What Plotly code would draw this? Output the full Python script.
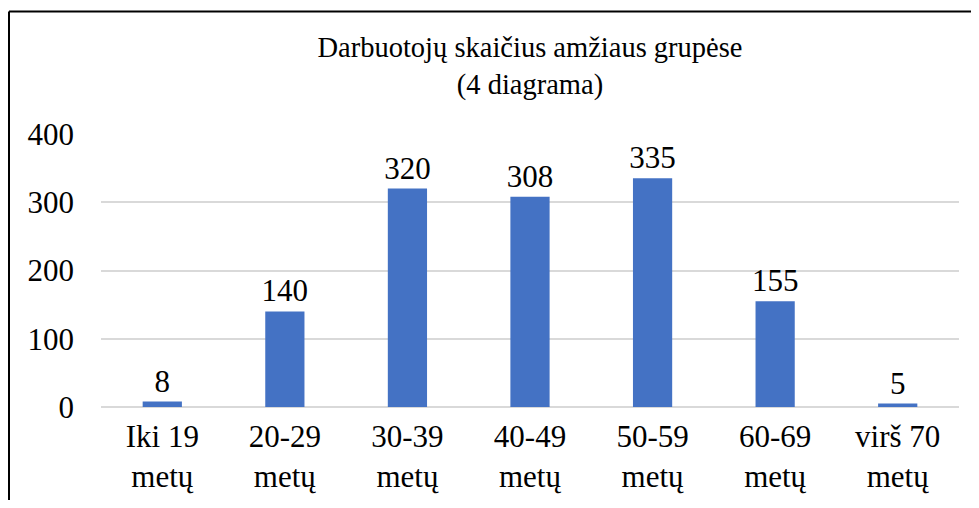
import plotly.graph_objects as go

categories = ["Iki 19<br>metų", "20-29<br>metų", "30-39<br>metų", "40-49<br>metų",
              "50-59<br>metų", "60-69<br>metų", "virš 70<br>metų"]
values = [8, 140, 320, 308, 335, 155, 5]
y_ticks = [0, 100, 200, 300, 400]

FONT = "Liberation Serif"
OFF = 8  # page body margin

W, H = 963, 492
L, T = 101 - OFF, 134 - OFF
R = W - (959 - OFF)
B = H - (407 - OFF)
pw, ph = W - L - R, H - T - B
bx = (9 - OFF - L) / pw
by = (H - B - (11.5 - OFF)) / ph

fig = go.Figure(go.Bar(
    x=categories, y=values,
    marker=dict(color="#4472C4", line=dict(width=0)),
    text=[str(v) for v in values], textposition="outside",
    constraintext="none",
    textfont=dict(family=FONT, size=31, color="#000000"),
    cliponaxis=False,
))

fig.update_layout(
    width=W, height=H,
    margin=dict(l=L, r=R, t=T, b=B, autoexpand=False),
    paper_bgcolor="white", plot_bgcolor="white",
    bargap=0.68,
    showlegend=False,
    font=dict(family=FONT, color="#000000"),
    title=dict(text="Darbuotojų skaičius amžiaus grupėse<br>(4 diagrama)",
               x=0.5, xref="paper", xanchor="center",
               y=1 - (57 - OFF) / H, yanchor="top",
               font=dict(family=FONT, size=28.5, color="#000000")),
    xaxis=dict(showgrid=False, showline=False, ticks="", zeroline=False,
               automargin=False,
               tickfont=dict(family=FONT, size=31, color="#000000"),
               ticklabelstandoff=8),
    yaxis=dict(range=[0, 400], tickvals=y_ticks, showgrid=True, gridcolor="#D9D9D9",
               gridwidth=2, zeroline=True, zerolinecolor="#D9D9D9", zerolinewidth=2,
               showline=False, ticks="", automargin=False,
               tickfont=dict(family=FONT, size=31, color="#000000"),
               ticklabelstandoff=26),
    shapes=[
        dict(type="line", xref="paper", yref="paper", x0=bx, x1=1.2, y0=by, y1=by,
             line=dict(color="#000000", width=2)),
        dict(type="line", xref="paper", yref="paper", x0=bx, x1=bx, y0=by, y1=-0.6,
             line=dict(color="#000000", width=2)),
    ],
)

fig.write_html("out.html")
